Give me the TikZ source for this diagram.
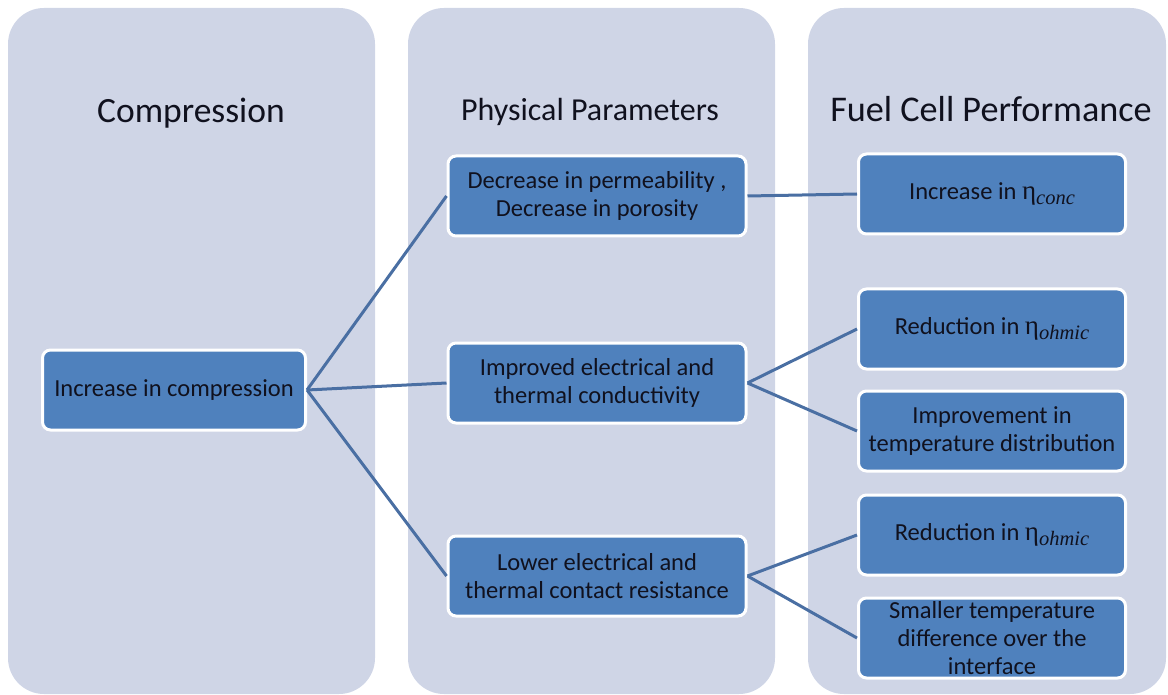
\documentclass[tikz,border=0pt]{standalone}
\usepackage{fontspec}
\setmainfont{Carlito}
\newfontfamily\mathlike{Liberation Serif}

\definecolor{panelfill}{HTML}{CFD5E6}
\definecolor{boxfill}{HTML}{4F81BD}
\definecolor{linkcol}{HTML}{4A6FA3}
\definecolor{textcol}{HTML}{10111E}

% eta with an italic subscript
\newcommand{\etaloss}[1]{{\mathlike\fontsize{27}{28}\selectfont η}\raisebox{-5pt}{\mathlike\itshape\fontsize{20.5}{22}\selectfont #1}}

\tikzset{
  panel/.style={fill=panelfill, rounded corners=36pt},
  title/.style={text=textcol, anchor=base, font=\fontsize{35.5}{40}\selectfont},
  item/.style={draw=white, line width=3pt, fill=boxfill, rounded corners=8pt,
    text=textcol, align=center, minimum width=298pt, minimum height=80pt,
    inner sep=2pt, font=\fontsize{24.5}{28}\selectfont},
  shortitem/.style={item, minimum width=267pt},
  link/.style={draw=linkcol, line width=3pt},
}

\begin{document}
\begin{tikzpicture}[x=1pt, y=-1pt]
        \useasboundingbox (0,0) rectangle (1168,695);

        % Draw the three column panels
        \fill[panel] (8,8) rectangle (375,694);
        \fill[panel] (408,8) rectangle (775,694);
        \fill[panel] (808,8) rectangle (1166,694);

        % Column titles
        \node[title] (tcomp) at (191,123) {Compression};
        \node[title, font=\fontsize{32}{36}\selectfont] (tphys) at (590,121) {Physical Parameters};
        \node[title, font=\fontsize{36.2}{40}\selectfont] (tperf) at (991,122) {Fuel Cell Performance};

        % Cause
        \node[item, minimum width=263pt] (comp) at (174,390) {Increase in compression};

        % Physical parameters
        \node[item] (perm) at (597,196) {Decrease in permeability ,\\ Decrease in porosity};
        \node[item] (cond) at (597,383) {Improved electrical and\\ thermal conductivity};
        \node[item] (cres) at (597,576) {Lower electrical and\\ thermal contact resistance};

        % Fuel cell performance
        \node[shortitem] (conc) at (992,194) {Increase in \etaloss{conc}};
        \node[shortitem] (ohma) at (992,329) {Reduction in \etaloss{ohmic}};
        \node[shortitem] (tdis) at (992,431) {Improvement in\\ temperature distribution};
        \node[shortitem] (ohmb) at (992,535) {Reduction in \etaloss{ohmic}};
        \node[shortitem] (tdif) at (992,638) {Smaller temperature\\ difference over the\\ interface};

        % Connect compression to the parameters
        \foreach \p in {perm, cond, cres}
            \draw[link] (comp.east) -- (\p.west);

        % Connect parameters to performance
        \draw[link] (perm.east) -- (conc.west);
        \draw[link] (cond.east) -- (ohma.west);
        \draw[link] (cond.east) -- (tdis.west);
        \draw[link] (cres.east) -- (ohmb.west);
        \draw[link] (cres.east) -- (tdif.west);
    \end{tikzpicture}
\end{document}
